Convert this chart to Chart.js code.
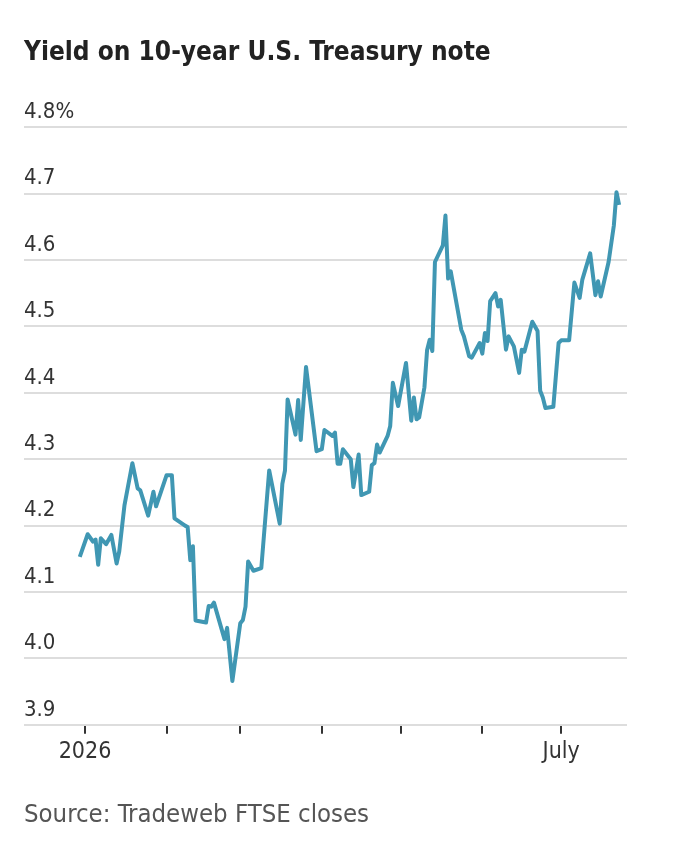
<!DOCTYPE html>
<html>
<head>
<meta charset="utf-8">
<script src="https://cdn.jsdelivr.net/npm/chart.js@4.4.1/dist/chart.umd.min.js"></script>
<style>
  html, body { margin: 0; padding: 0; background: #fff; }
</style>
</head>
<body>
<canvas id="yieldChart" width="680" height="854"></canvas>
<script>
const dates = [
	"2025-12-30", "2026-01-02", "2026-01-04", "2026-01-05", "2026-01-06", "2026-01-07", "2026-01-09", "2026-01-11",
	"2026-01-13", "2026-01-14", "2026-01-16", "2026-01-19", "2026-01-21", "2026-01-22", "2026-01-25", "2026-01-27", "2026-01-28",
	"2026-02-01", "2026-02-03", "2026-02-04", "2026-02-08", "2026-02-09", "2026-02-10", "2026-02-11", "2026-02-12",
	"2026-02-16", "2026-02-17", "2026-02-18", "2026-02-19", "2026-02-23", "2026-02-24", "2026-02-26",
	"2026-03-01", "2026-03-02", "2026-03-03", "2026-03-04", "2026-03-06", "2026-03-09", "2026-03-12", "2026-03-16",
	"2026-03-17", "2026-03-18", "2026-03-19", "2026-03-22", "2026-03-23", "2026-03-24", "2026-03-26", "2026-03-30",
	"2026-04-01", "2026-04-02", "2026-04-05", "2026-04-06", "2026-04-07", "2026-04-08", "2026-04-09", "2026-04-12",
	"2026-04-13", "2026-04-15", "2026-04-16", "2026-04-19", "2026-04-20", "2026-04-21", "2026-04-22", "2026-04-23",
	"2026-04-26", "2026-04-27", "2026-04-28", "2026-04-30",
	"2026-05-03", "2026-05-05", "2026-05-06", "2026-05-07", "2026-05-08", "2026-05-10", "2026-05-11", "2026-05-12",
	"2026-05-13", "2026-05-14", "2026-05-17", "2026-05-18", "2026-05-19", "2026-05-20", "2026-05-24", "2026-05-25",
	"2026-05-27", "2026-05-28", "2026-05-31",
	"2026-06-01", "2026-06-02", "2026-06-03", "2026-06-04", "2026-06-06", "2026-06-07", "2026-06-08", "2026-06-10",
	"2026-06-11", "2026-06-13", "2026-06-15", "2026-06-16", "2026-06-17", "2026-06-20", "2026-06-22", "2026-06-23",
	"2026-06-24", "2026-06-25", "2026-06-28", "2026-06-30",
	"2026-07-01", "2026-07-04", "2026-07-06", "2026-07-08", "2026-07-09", "2026-07-12", "2026-07-14", "2026-07-15",
	"2026-07-16", "2026-07-19", "2026-07-21", "2026-07-22", "2026-07-23",
];

const yields = [
	4.153, 4.187, 4.176, 4.179, 4.141, 4.181, 4.172, 4.186, 4.143, 4.161, 4.231, 4.294, 4.256, 4.253, 4.215, 4.251, 4.229,
	4.276, 4.276, 4.211, 4.200, 4.198, 4.148, 4.169, 4.057, 4.054, 4.079, 4.078, 4.084, 4.029, 4.046, 3.966,
	4.053, 4.058, 4.078, 4.146, 4.132, 4.136, 4.283, 4.203, 4.263, 4.283, 4.390, 4.337, 4.389, 4.329, 4.439, 4.312,
	4.315, 4.344, 4.335, 4.340, 4.293, 4.293, 4.315, 4.300, 4.258, 4.307, 4.246, 4.251, 4.291, 4.294, 4.322, 4.310,
	4.335, 4.350, 4.415, 4.380,
	4.445, 4.358, 4.393, 4.360, 4.363, 4.408, 4.464, 4.480, 4.463, 4.597, 4.622, 4.667, 4.572, 4.583, 4.495, 4.485,
	4.455, 4.453, 4.475,
	4.459, 4.490, 4.478, 4.538, 4.550, 4.530, 4.540, 4.465, 4.485, 4.470, 4.430, 4.465, 4.462, 4.507, 4.493, 4.403,
	4.393, 4.377, 4.379, 4.475,
	4.479, 4.479, 4.566, 4.543, 4.570, 4.610, 4.547, 4.568, 4.545, 4.597, 4.652, 4.702, 4.683,
];

const xTickDates = ["2026-01-01", "2026-02-01", "2026-03-01", "2026-04-01", "2026-05-01", "2026-06-01", "2026-07-01"];
const xTickLabels = ["2026", "", "", "", "", "", "July"];
const yTickValues = [3.9, 4.0, 4.1, 4.2, 4.3, 4.4, 4.5, 4.6, 4.7, 4.8];
const yTickLabels = ["3.9", "4.0", "4.1", "4.2", "4.3", "4.4", "4.5", "4.6", "4.7", "4.8%"];

const FONT = "'Liberation Sans Narrow', 'DejaVu Sans Condensed', sans-serif";
const LINE_COLOR = "#4097b3";

// days since Jan 1, 2026, so a plain linear axis can be used
const dayNumber = (s) => {
	const [y, m, d] = s.split("-").map(Number);
	return (Date.UTC(y, m - 1, d) - Date.UTC(2026, 0, 1)) / 86400000;
};

const points = dates.map((d, i) => ({ x: dayNumber(d), y: yields[i] }));
const xTickDays = xTickDates.map(dayNumber);

const ctx = document.getElementById("yieldChart").getContext("2d");

new Chart(ctx, {
	type: "line",
	data: {
		datasets: [
			{
				data: points,
				borderColor: LINE_COLOR,
				borderWidth: 4,
				borderJoinStyle: "round",
				pointRadius: 0,
				tension: 0,
				fill: false,
			},
		],
	},
	options: {
		responsive: false,
		animation: false,
		layout: {
			padding: { left: 24, right: 53, top: 0, bottom: 23 },
		},
		scales: {
			x: {
				type: "linear",
				min: -23.2,
				max: 206,
				afterBuildTicks: (axis) => {
					axis.ticks = xTickDays.map((v) => ({ value: v }));
				},
				ticks: {
					callback: (value, index) => xTickLabels[index],
					font: { family: FONT, size: 23 },
					color: "#333",
					padding: 4,
					maxRotation: 0,
					autoSkip: false,
				},
				grid: {
					drawOnChartArea: false,
					drawTicks: true,
					tickLength: 9,
					color: "#333",
					lineWidth: 2,
				},
				border: { display: false },
			},
			y: {
				min: 3.9,
				max: 4.8,
				afterBuildTicks: (axis) => {
					axis.ticks = yTickValues.map((v) => ({ value: v }));
				},
				ticks: {
					callback: (value, index) => yTickLabels[index],
					mirror: true,
					padding: 0,
					labelOffset: -15,
					font: { family: FONT, size: 22 },
					color: "#333",
				},
				grid: {
					color: "#dddddd",
					lineWidth: 2,
					drawTicks: false,
				},
				border: { display: false },
			},
		},
		plugins: {
			legend: { display: false },
			tooltip: { enabled: false },
			title: {
				display: true,
				text: "Yield on 10-year U.S. Treasury note",
				align: "start",
				color: "#222",
				font: { family: FONT, size: 26, weight: "bold" },
				padding: { top: 38, bottom: 58 },
			},
			subtitle: {
				display: true,
				position: "bottom",
				text: "Source: Tradeweb FTSE closes",
				align: "start",
				color: "#555",
				font: { family: FONT, size: 25.5 },
				padding: { top: 31, bottom: 0 },
			},
		},
	},
});
</script>
</body>
</html>
